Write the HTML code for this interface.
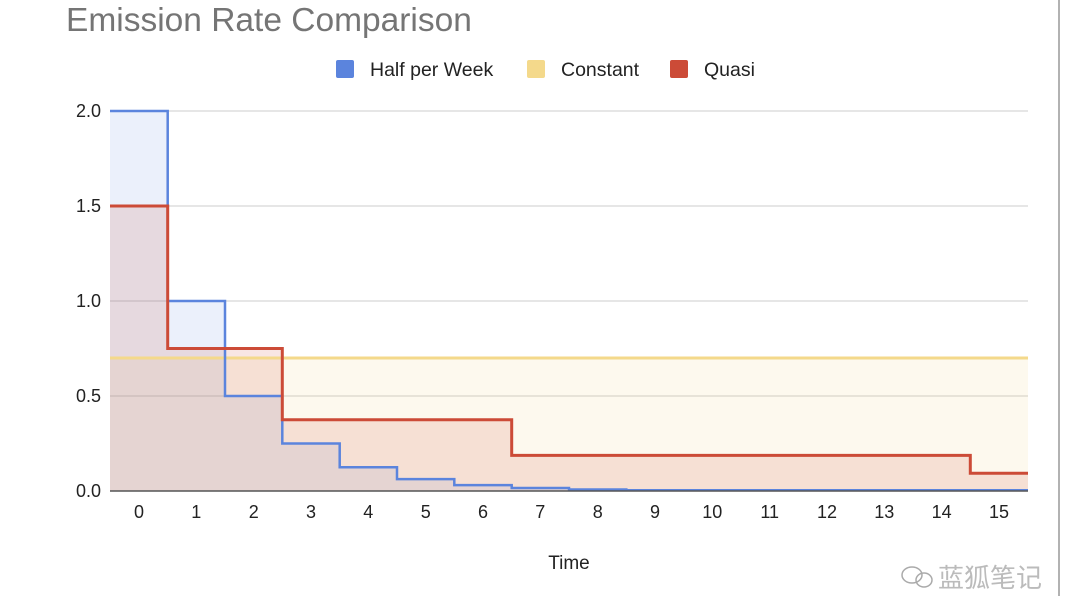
<!DOCTYPE html>
<html><head><meta charset="utf-8"><style>
body{margin:0;background:#fff;}
svg{display:block;font-family:"Liberation Sans",Arial,sans-serif;}
</style></head><body>
<svg width="1080" height="596" viewBox="0 0 1080 596">
<rect width="1080" height="596" fill="#fff"/>
<line x1="1059" y1="0" x2="1059" y2="596" stroke="#999" stroke-width="1.5"/>
<text x="66" y="31" font-size="33.5" fill="#757575">Emission Rate Comparison</text>
<rect x="336" y="60" width="18" height="18" rx="2" fill="#5b84dd"/>
<text x="370" y="76" font-size="19.5" fill="#222">Half per Week</text>
<rect x="527" y="60" width="18" height="18" rx="2" fill="#f4d98b"/>
<text x="561" y="76" font-size="19.5" fill="#222">Constant</text>
<rect x="670" y="60" width="18" height="18" rx="2" fill="#cc4b37"/>
<text x="704" y="76" font-size="19.5" fill="#222">Quasi</text>
<g stroke="#ccc" stroke-width="1">
<line x1="110" y1="111" x2="1028" y2="111"/>
<line x1="110" y1="206" x2="1028" y2="206"/>
<line x1="110" y1="301" x2="1028" y2="301"/>
<line x1="110" y1="396" x2="1028" y2="396"/>
</g>
<g font-size="18" fill="#222" text-anchor="end">
<text x="101" y="117">2.0</text><text x="101" y="212">1.5</text><text x="101" y="307">1.0</text><text x="101" y="402">0.5</text><text x="101" y="497">0.0</text>
</g>
<rect x="110" y="358" width="918" height="133" fill="#f4d98b" fill-opacity="0.15"/>
<path d="M110,491 V111 H167.7 V301 H225 V396 H282.3 V443.5 H339.7 V467.3 H397 V479.1 H454.3 V485.1 H511.7 V488 H569 V489.5 H626.3 V490.3 H1028 V491 Z" fill="#5b84dd" fill-opacity="0.12"/>
<path d="M110,491 V206 H167.7 V348.5 H282.3 V419.8 H511.7 V455.4 H970.3 V473.2 H1028 V491 Z" fill="#cc4b37" fill-opacity="0.14"/>
<line x1="110" y1="358" x2="1028" y2="358" stroke="#f4d98b" stroke-width="3"/>
<path d="M110,111 H167.7 V301 H225 V396 H282.3 V443.5 H339.7 V467.3 H397 V479.1 H454.3 V485.1 H511.7 V488 H569 V489.5 H626.3 V490.3 H1028" fill="none" stroke="#5b84dd" stroke-width="2.5"/>
<path d="M110,206 H167.7 V348.5 H282.3 V419.8 H511.7 V455.4 H970.3 V473.2 H1028" fill="none" stroke="#cc4b37" stroke-width="3"/>
<line x1="110" y1="491" x2="1028" y2="491" stroke="#555" stroke-width="1.5"/>
<g font-size="18" fill="#222" text-anchor="middle">
<text x="139" y="518">0</text><text x="196.3" y="518">1</text><text x="253.7" y="518">2</text><text x="311" y="518">3</text><text x="368.3" y="518">4</text><text x="425.7" y="518">5</text><text x="483" y="518">6</text><text x="540.3" y="518">7</text><text x="597.7" y="518">8</text><text x="655" y="518">9</text><text x="712.3" y="518">10</text><text x="769.7" y="518">11</text><text x="827" y="518">12</text><text x="884.3" y="518">13</text><text x="941.7" y="518">14</text><text x="999" y="518">15</text>
<text x="569" y="569" font-size="19">Time</text>
</g>
<g fill="none" stroke="#aaa" stroke-width="1.5">
<ellipse cx="912" cy="575" rx="10" ry="8"/><ellipse cx="924" cy="580" rx="8" ry="7"/>
</g>
<text x="938" y="587" font-size="26" fill="#bbb" font-family="'Liberation Sans','Noto Sans CJK SC',sans-serif">蓝狐笔记</text>
</svg>
</body></html>
